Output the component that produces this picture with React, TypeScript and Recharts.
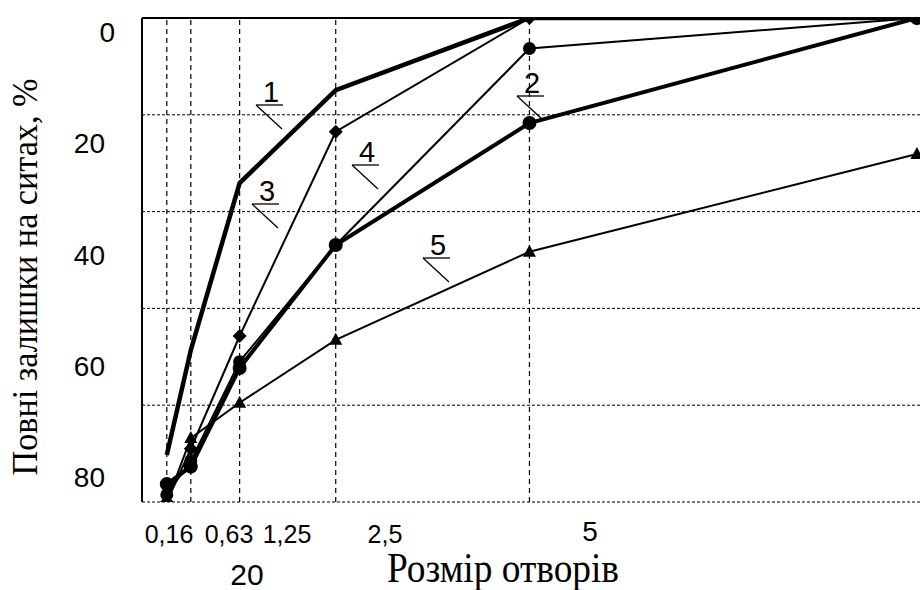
import { LineChart, Line, XAxis, YAxis, CartesianGrid, ReferenceLine } from 'recharts'

// sieve opening sizes, mm
const SIEVE = [0.16, 0.315, 0.63, 1.25, 2.5, 5]

// cumulative residue on sieves, %
const CURVE_1 = [90.3, 68.6, 34.1, 14.9, 0, 0]
const CURVE_2 = [96.3, 92.7, 72.3, 46.9, 21.7, 0]
const CURVE_3 = [100, 89, 65.7, 23.5, 0, 0]
const CURVE_4 = [98.5, 91.5, 71, 46.9, 6.3, 0]
const CURVE_5 = [100, 86.8, 79.5, 66.5, 48.3, 28.1]

const GRID_X = [0.16, 0.315, 0.63, 1.25, 2.5]
const GRID_Y = [20, 40, 60, 80]
const Y_TICKS = [0, 20, 40, 60, 80]
const X_TICK_LABELS = ['0,16', '0,63', '1,25', '2,5', '5', '20']
const CURVE_NAMES = ['1', '2', '3', '4', '5']

const X_TITLE = 'Розмір отворів'
const Y_TITLE = 'Повні залишки на ситах, %'

// layout only
const X_LABEL_POS = [
  { x: 169, y: 543, size: 25 },
  { x: 229, y: 543, size: 25 },
  { x: 287, y: 543, size: 25 },
  { x: 385, y: 543, size: 25 },
  { x: 590, y: 541, size: 28 },
  { x: 247, y: 585, size: 30 },
]
const Y_LABEL_RIGHT = [115, 105, 105, 105, 105]
const NOTE_POS = [
  { x: 256, y: 105 },
  { x: 517, y: 96 },
  { x: 252, y: 204 },
  { x: 352, y: 165 },
  { x: 423, y: 258 },
]

const data = SIEVE.map((s, i) => ({
  size: s,
  c1: CURVE_1[i],
  c2: CURVE_2[i],
  c3: CURVE_3[i],
  c4: CURVE_4[i],
  c5: CURVE_5[i],
}))

const SANS = '"Liberation Sans", Arial, sans-serif'
const SERIF = '"Liberation Serif", "Times New Roman", serif'

const circleDot = (r: number) => (props: any) => (
  <circle key={`c-${r}-${props.index}`} cx={props.cx} cy={props.cy} r={r} fill="#000" />
)

const diamondDot = (props: any) => {
  const { cx, cy } = props
  const d = 7
  return (
    <path
      key={`d-${props.index}`}
      d={`M${cx},${cy - d} L${cx + d},${cy} L${cx},${cy + d} L${cx - d},${cy} Z`}
      fill="#000"
    />
  )
}

const triangleDot = (props: any) => {
  const { cx, cy } = props
  return (
    <path
      key={`t-${props.index}`}
      d={`M${cx},${cy - 7} L${cx + 6.5},${cy + 5} L${cx - 6.5},${cy + 5} Z`}
      fill="#000"
    />
  )
}

const YTick = (props: any) => {
  const { y, index, payload } = props
  return (
    <text x={Y_LABEL_RIGHT[index]} y={y} dy={10} textAnchor="end" fontSize={28} fontFamily={SANS} fill="#000">
      {payload.value}
    </text>
  )
}

export default function App() {
  return (
    <div style={{ position: 'absolute', left: 0, top: 0, width: 920, height: 590, background: '#fff' }}>
      <LineChart width={920} height={590} data={data} margin={{ top: 18, right: 0, bottom: 88, left: 0 }}>
        <XAxis
          dataKey="size"
          type="number"
          domain={[0, 5.02]}
          allowDataOverflow
          ticks={GRID_X}
          tick={false}
          tickLine={false}
          height={0}
          axisLine={{ stroke: '#000', strokeWidth: 2 }}
        />
        <YAxis yAxisId="v" type="number" domain={[0, 100]} reversed allowDataOverflow ticks={GRID_Y} hide />
        <YAxis
          yAxisId="lbl"
          type="number"
          domain={[-2.517, 84.49]}
          reversed
          allowDataOverflow
          ticks={Y_TICKS}
          width={142}
          tickLine={false}
          tick={<YTick />}
          axisLine={{ stroke: '#000', strokeWidth: 2 }}
        />
        <CartesianGrid yAxisId="v" vertical={false} stroke="#000" strokeWidth={1} strokeDasharray="3 2" />
        {GRID_X.map((g) => (
          <ReferenceLine key={g} yAxisId="v" x={g} stroke="#000" strokeWidth={1.2} strokeDasharray="5 4" />
        ))}
        <ReferenceLine yAxisId="v" y={0} stroke="#000" strokeWidth={2} />

        <Line yAxisId="v" dataKey="c5" stroke="#000" strokeWidth={2} dot={triangleDot} isAnimationActive={false} />
        <Line yAxisId="v" dataKey="c4" stroke="#000" strokeWidth={2} dot={circleDot(6.5)} isAnimationActive={false} />
        <Line yAxisId="v" dataKey="c3" stroke="#000" strokeWidth={2} dot={diamondDot} isAnimationActive={false} />
        <Line yAxisId="v" dataKey="c2" stroke="#000" strokeWidth={4} dot={circleDot(7)} isAnimationActive={false} />
        <Line yAxisId="v" dataKey="c1" stroke="#000" strokeWidth={4.5} dot={false} isAnimationActive={false} />
      </LineChart>

      <svg width={920} height={590} style={{ position: 'absolute', left: 0, top: 0, pointerEvents: 'none' }}>
        {X_TICK_LABELS.map((t, i) => (
          <text
            key={t}
            x={X_LABEL_POS[i].x}
            y={X_LABEL_POS[i].y}
            textAnchor="middle"
            fontSize={X_LABEL_POS[i].size}
            fontFamily={SANS}
            fill="#000"
          >
            {t}
          </text>
        ))}
        {CURVE_NAMES.map((n, i) => {
          const p = NOTE_POS[i]
          return (
            <g key={n}>
              <text x={p.x + 15} y={p.y - 3} textAnchor="middle" fontSize={29} fontFamily={SANS} fill="#000">
                {n}
              </text>
              <line x1={p.x} y1={p.y} x2={p.x + 27} y2={p.y} stroke="#000" strokeWidth={1.3} />
              <line x1={p.x} y1={p.y} x2={p.x + 26} y2={p.y + 24} stroke="#000" strokeWidth={1.3} />
            </g>
          )
        })}
        <text
          x={503}
          y={582}
          textAnchor="middle"
          fontSize={42}
          fontFamily={SERIF}
          textLength={232}
          lengthAdjust="spacingAndGlyphs"
          fill="#000"
        >
          {X_TITLE}
        </text>
        <text
          transform="rotate(-90)"
          x={-277}
          y={37}
          textAnchor="middle"
          fontSize={35}
          fontFamily={SERIF}
          textLength={397}
          lengthAdjust="spacingAndGlyphs"
          fill="#000"
        >
          {Y_TITLE}
        </text>
      </svg>
    </div>
  )
}
